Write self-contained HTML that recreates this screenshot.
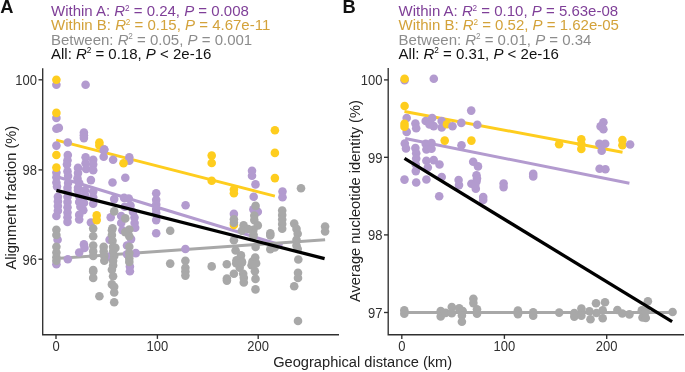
<!DOCTYPE html>
<html><head><meta charset="utf-8"><style>html,body{margin:0;padding:0;background:#fff;width:685px;height:372px;overflow:hidden}svg{display:block;will-change:transform}</style></head><body>
<svg width="685" height="372" viewBox="0 0 685 372" font-family="Liberation Sans, sans-serif" font-size="15">
<rect width="685" height="372" fill="#fff"/>
<text x="0.2" y="12.9" font-size="18.3" font-weight="bold" fill="#111">A</text>
<text x="342.6" y="12.9" font-size="18.3" font-weight="bold" fill="#111">B</text>
<text x="51" y="16.1" fill="#7f3f98">Within A: <tspan font-style="italic">R</tspan><tspan font-size="8.2" dx="-0.2" dy="-5.6">2</tspan><tspan dy="5.6"> = 0.24, </tspan><tspan font-style="italic">P</tspan> = 0.008</text>
<text x="51" y="30.4" fill="#d3a23a">Within B: <tspan font-style="italic">R</tspan><tspan font-size="8.2" dx="-0.2" dy="-5.6">2</tspan><tspan dy="5.6"> = 0.15, </tspan><tspan font-style="italic">P</tspan> = 4.67e-11</text>
<text x="51" y="44.7" fill="#8c8c8c">Between: <tspan font-style="italic">R</tspan><tspan font-size="8.2" dx="-0.2" dy="-5.6">2</tspan><tspan dy="5.6"> = 0.05, </tspan><tspan font-style="italic">P</tspan> = 0.001</text>
<text x="51" y="59.0" fill="#111">All: <tspan font-style="italic">R</tspan><tspan font-size="8.2" dx="-0.2" dy="-5.6">2</tspan><tspan dy="5.6"> = 0.18, </tspan><tspan font-style="italic">P</tspan> &lt; 2e-16</text>
<text x="398.6" y="16.1" fill="#7f3f98">Within A: <tspan font-style="italic">R</tspan><tspan font-size="8.2" dx="-0.2" dy="-5.6">2</tspan><tspan dy="5.6"> = 0.10, </tspan><tspan font-style="italic">P</tspan> = 5.63e-08</text>
<text x="398.6" y="30.4" fill="#d3a23a">Within B: <tspan font-style="italic">R</tspan><tspan font-size="8.2" dx="-0.2" dy="-5.6">2</tspan><tspan dy="5.6"> = 0.52, </tspan><tspan font-style="italic">P</tspan> = 1.62e-05</text>
<text x="398.6" y="44.7" fill="#8c8c8c">Between: <tspan font-style="italic">R</tspan><tspan font-size="8.2" dx="-0.2" dy="-5.6">2</tspan><tspan dy="5.6"> = 0.01, </tspan><tspan font-style="italic">P</tspan> = 0.34</text>
<text x="398.6" y="59.0" fill="#111">All: <tspan font-style="italic">R</tspan><tspan font-size="8.2" dx="-0.2" dy="-5.6">2</tspan><tspan dy="5.6"> = 0.31, </tspan><tspan font-style="italic">P</tspan> &lt; 2e-16</text>
<text transform="translate(15.8 197.7) rotate(-90)" text-anchor="middle" font-size="14.6" fill="#222">Alignment fraction (%)</text>
<text transform="translate(360.3 201.1) rotate(-90)" text-anchor="middle" font-size="14.6" fill="#222">Average nucleotide identity (%)</text>
<text x="362.7" y="366.6" text-anchor="middle" font-size="14.65" fill="#222">Geographical distance (km)</text>
<path d="M56.2 140.1L274.9 196.1" stroke="#fecd1e" stroke-width="3"/>
<path d="M56.2 176.5L282.5 245.5" stroke="#b39bcf" stroke-width="3"/>
<path d="M56.4 258.6L325.1 239.7" stroke="#a8a8a8" stroke-width="3"/>
<circle cx="56.4" cy="84.8" r="4.3" fill="#b39bcf"/>
<circle cx="85.6" cy="84.8" r="4.3" fill="#b39bcf"/>
<circle cx="56.4" cy="117.9" r="4.3" fill="#b39bcf"/>
<circle cx="56.4" cy="128.8" r="4.3" fill="#b39bcf"/>
<circle cx="58.8" cy="127.9" r="4.3" fill="#b39bcf"/>
<circle cx="83.9" cy="132.5" r="4.3" fill="#b39bcf"/>
<circle cx="83.9" cy="135.3" r="4.3" fill="#b39bcf"/>
<circle cx="83.9" cy="138.1" r="4.3" fill="#b39bcf"/>
<circle cx="56.4" cy="145.6" r="4.3" fill="#b39bcf"/>
<circle cx="67.8" cy="142.5" r="4.3" fill="#b39bcf"/>
<circle cx="104.3" cy="149.5" r="4.3" fill="#b39bcf"/>
<circle cx="56.4" cy="172.5" r="4.3" fill="#b39bcf"/>
<circle cx="56.4" cy="177.2" r="4.3" fill="#b39bcf"/>
<circle cx="56.4" cy="182.5" r="4.3" fill="#b39bcf"/>
<circle cx="57" cy="186.5" r="4.3" fill="#b39bcf"/>
<circle cx="67.8" cy="155" r="4.3" fill="#b39bcf"/>
<circle cx="67.5" cy="160.3" r="4.3" fill="#b39bcf"/>
<circle cx="67" cy="164.4" r="4.3" fill="#b39bcf"/>
<circle cx="67.5" cy="171.4" r="4.3" fill="#b39bcf"/>
<circle cx="68.1" cy="176" r="4.3" fill="#b39bcf"/>
<circle cx="68.1" cy="183" r="4.3" fill="#b39bcf"/>
<circle cx="67.5" cy="187.7" r="4.3" fill="#b39bcf"/>
<circle cx="78" cy="167.9" r="4.3" fill="#b39bcf"/>
<circle cx="78" cy="173.1" r="4.3" fill="#b39bcf"/>
<circle cx="77.5" cy="178.4" r="4.3" fill="#b39bcf"/>
<circle cx="79.2" cy="183" r="4.3" fill="#b39bcf"/>
<circle cx="78" cy="187.7" r="4.3" fill="#b39bcf"/>
<circle cx="85.6" cy="157.3" r="4.3" fill="#b39bcf"/>
<circle cx="85.6" cy="163.2" r="4.3" fill="#b39bcf"/>
<circle cx="86.2" cy="169" r="4.3" fill="#b39bcf"/>
<circle cx="93.2" cy="159.7" r="4.3" fill="#b39bcf"/>
<circle cx="93.2" cy="164.4" r="4.3" fill="#b39bcf"/>
<circle cx="93.2" cy="170.2" r="4.3" fill="#b39bcf"/>
<circle cx="90.9" cy="180.1" r="4.3" fill="#b39bcf"/>
<circle cx="103.7" cy="150.3" r="4.3" fill="#b39bcf"/>
<circle cx="103.7" cy="156.8" r="4.3" fill="#b39bcf"/>
<circle cx="113.1" cy="159.7" r="4.3" fill="#b39bcf"/>
<circle cx="112.5" cy="182.5" r="4.3" fill="#b39bcf"/>
<circle cx="125.3" cy="177.8" r="4.3" fill="#b39bcf"/>
<circle cx="57.9" cy="196.8" r="4.3" fill="#b39bcf"/>
<circle cx="57.9" cy="201.4" r="4.3" fill="#b39bcf"/>
<circle cx="57.9" cy="206.1" r="4.3" fill="#b39bcf"/>
<circle cx="57.9" cy="210.8" r="4.3" fill="#b39bcf"/>
<circle cx="56.4" cy="216" r="4.3" fill="#b39bcf"/>
<circle cx="67.5" cy="191.5" r="4.3" fill="#b39bcf"/>
<circle cx="67.5" cy="196.8" r="4.3" fill="#b39bcf"/>
<circle cx="67.5" cy="202" r="4.3" fill="#b39bcf"/>
<circle cx="67.5" cy="207.3" r="4.3" fill="#b39bcf"/>
<circle cx="67.5" cy="212.5" r="4.3" fill="#b39bcf"/>
<circle cx="67.5" cy="217.2" r="4.3" fill="#b39bcf"/>
<circle cx="67.5" cy="221.9" r="4.3" fill="#b39bcf"/>
<circle cx="78" cy="190.3" r="4.3" fill="#b39bcf"/>
<circle cx="79.2" cy="196.2" r="4.3" fill="#b39bcf"/>
<circle cx="79.2" cy="202" r="4.3" fill="#b39bcf"/>
<circle cx="80.4" cy="206.7" r="4.3" fill="#b39bcf"/>
<circle cx="83.3" cy="210.2" r="4.3" fill="#b39bcf"/>
<circle cx="79.2" cy="214.9" r="4.3" fill="#b39bcf"/>
<circle cx="79.2" cy="219.5" r="4.3" fill="#b39bcf"/>
<circle cx="85" cy="190.3" r="4.3" fill="#b39bcf"/>
<circle cx="85" cy="195" r="4.3" fill="#b39bcf"/>
<circle cx="84" cy="203" r="4.3" fill="#b39bcf"/>
<circle cx="93.2" cy="191.5" r="4.3" fill="#b39bcf"/>
<circle cx="93.2" cy="197.3" r="4.3" fill="#b39bcf"/>
<circle cx="93.2" cy="203.8" r="4.3" fill="#b39bcf"/>
<circle cx="90.9" cy="222.5" r="4.3" fill="#b39bcf"/>
<circle cx="114.2" cy="199.1" r="4.3" fill="#b39bcf"/>
<circle cx="110.7" cy="217.2" r="4.3" fill="#b39bcf"/>
<circle cx="121.2" cy="216" r="4.3" fill="#b39bcf"/>
<circle cx="121.2" cy="223" r="4.3" fill="#b39bcf"/>
<circle cx="57.6" cy="239.7" r="4.3" fill="#b39bcf"/>
<circle cx="56.4" cy="264.2" r="4.3" fill="#b39bcf"/>
<circle cx="67.8" cy="259.3" r="4.3" fill="#b39bcf"/>
<circle cx="79.2" cy="252.5" r="4.3" fill="#b39bcf"/>
<circle cx="83.9" cy="244.4" r="4.3" fill="#b39bcf"/>
<circle cx="84.5" cy="247.9" r="4.3" fill="#b39bcf"/>
<circle cx="109.6" cy="239.7" r="4.3" fill="#b39bcf"/>
<circle cx="109.6" cy="256.6" r="4.3" fill="#b39bcf"/>
<circle cx="122.4" cy="230.3" r="4.3" fill="#b39bcf"/>
<circle cx="129.3" cy="157.3" r="4.3" fill="#b39bcf"/>
<circle cx="129.3" cy="160.8" r="4.3" fill="#b39bcf"/>
<circle cx="124.1" cy="197.9" r="4.3" fill="#b39bcf"/>
<circle cx="128.8" cy="198.5" r="4.3" fill="#b39bcf"/>
<circle cx="130.5" cy="205.5" r="4.3" fill="#b39bcf"/>
<circle cx="124.7" cy="206.7" r="4.3" fill="#b39bcf"/>
<circle cx="134.6" cy="223" r="4.3" fill="#b39bcf"/>
<circle cx="135.2" cy="227.7" r="4.3" fill="#b39bcf"/>
<circle cx="156.2" cy="193.3" r="4.3" fill="#b39bcf"/>
<circle cx="156.2" cy="199.7" r="4.3" fill="#b39bcf"/>
<circle cx="156.2" cy="204.4" r="4.3" fill="#b39bcf"/>
<circle cx="156.2" cy="209" r="4.3" fill="#b39bcf"/>
<circle cx="156.2" cy="213.1" r="4.3" fill="#b39bcf"/>
<circle cx="156.2" cy="220.1" r="4.3" fill="#b39bcf"/>
<circle cx="185.6" cy="205.3" r="4.3" fill="#b39bcf"/>
<circle cx="133" cy="212" r="4.3" fill="#b39bcf"/>
<circle cx="134.5" cy="217.5" r="4.3" fill="#b39bcf"/>
<circle cx="131.1" cy="239.1" r="4.3" fill="#b39bcf"/>
<circle cx="127" cy="245.5" r="4.3" fill="#b39bcf"/>
<circle cx="127" cy="254.3" r="4.3" fill="#b39bcf"/>
<circle cx="135.8" cy="253.1" r="4.3" fill="#b39bcf"/>
<circle cx="156.2" cy="233.3" r="4.3" fill="#b39bcf"/>
<circle cx="185.4" cy="249" r="4.3" fill="#b39bcf"/>
<circle cx="129.9" cy="266.5" r="4.3" fill="#b39bcf"/>
<circle cx="129.9" cy="271.3" r="4.3" fill="#b39bcf"/>
<circle cx="252" cy="170.8" r="4.3" fill="#b39bcf"/>
<circle cx="252" cy="175.8" r="4.3" fill="#b39bcf"/>
<circle cx="255.5" cy="184.4" r="4.3" fill="#b39bcf"/>
<circle cx="253.7" cy="196.8" r="4.3" fill="#b39bcf"/>
<circle cx="233.9" cy="213.9" r="4.3" fill="#b39bcf"/>
<circle cx="253.4" cy="209.4" r="4.3" fill="#b39bcf"/>
<circle cx="257.8" cy="211.7" r="4.3" fill="#b39bcf"/>
<circle cx="282.5" cy="191.5" r="4.3" fill="#b39bcf"/>
<circle cx="282.5" cy="197.3" r="4.3" fill="#b39bcf"/>
<circle cx="56.4" cy="79.7" r="4.3" fill="#fecd1e"/>
<circle cx="56.4" cy="112.9" r="4.3" fill="#fecd1e"/>
<circle cx="99.4" cy="142.5" r="4.3" fill="#fecd1e"/>
<circle cx="99.4" cy="145.4" r="4.3" fill="#fecd1e"/>
<circle cx="56.4" cy="155.0" r="4.3" fill="#fecd1e"/>
<circle cx="56.4" cy="167.6" r="4.3" fill="#fecd1e"/>
<circle cx="123.5" cy="163.2" r="4.3" fill="#fecd1e"/>
<circle cx="96.7" cy="215.4" r="4.3" fill="#fecd1e"/>
<circle cx="96.7" cy="220.1" r="4.3" fill="#fecd1e"/>
<circle cx="211.7" cy="155.6" r="4.3" fill="#fecd1e"/>
<circle cx="211.7" cy="163" r="4.3" fill="#fecd1e"/>
<circle cx="211.7" cy="180.7" r="4.3" fill="#fecd1e"/>
<circle cx="233.9" cy="189.5" r="4.3" fill="#fecd1e"/>
<circle cx="233.9" cy="193.3" r="4.3" fill="#fecd1e"/>
<circle cx="274.9" cy="130.2" r="4.3" fill="#fecd1e"/>
<circle cx="274.9" cy="152.9" r="4.3" fill="#fecd1e"/>
<circle cx="274.9" cy="178.1" r="4.3" fill="#fecd1e"/>
<circle cx="233.9" cy="225" r="4.3" fill="#fecd1e"/>
<circle cx="114.2" cy="211.4" r="4.3" fill="#a8a8a8"/>
<circle cx="56.4" cy="229.8" r="4.3" fill="#a8a8a8"/>
<circle cx="93.2" cy="228.6" r="4.3" fill="#a8a8a8"/>
<circle cx="112.5" cy="228.3" r="4.3" fill="#a8a8a8"/>
<circle cx="56.4" cy="235" r="4.3" fill="#a8a8a8"/>
<circle cx="56.4" cy="246.7" r="4.3" fill="#a8a8a8"/>
<circle cx="56.4" cy="252.5" r="4.3" fill="#a8a8a8"/>
<circle cx="56.4" cy="257.2" r="4.3" fill="#a8a8a8"/>
<circle cx="56.4" cy="260.7" r="4.3" fill="#a8a8a8"/>
<circle cx="93.2" cy="236.2" r="4.3" fill="#a8a8a8"/>
<circle cx="93.2" cy="245.5" r="4.3" fill="#a8a8a8"/>
<circle cx="93.2" cy="251.4" r="4.3" fill="#a8a8a8"/>
<circle cx="93.2" cy="256" r="4.3" fill="#a8a8a8"/>
<circle cx="93.2" cy="270" r="4.3" fill="#a8a8a8"/>
<circle cx="103.7" cy="246.7" r="4.3" fill="#a8a8a8"/>
<circle cx="103.7" cy="251.4" r="4.3" fill="#a8a8a8"/>
<circle cx="104.3" cy="256" r="4.3" fill="#a8a8a8"/>
<circle cx="104.3" cy="260.7" r="4.3" fill="#a8a8a8"/>
<circle cx="111.9" cy="230.3" r="4.3" fill="#a8a8a8"/>
<circle cx="111.9" cy="235" r="4.3" fill="#a8a8a8"/>
<circle cx="112.5" cy="240.8" r="4.3" fill="#a8a8a8"/>
<circle cx="113.1" cy="246.7" r="4.3" fill="#a8a8a8"/>
<circle cx="113.1" cy="251.4" r="4.3" fill="#a8a8a8"/>
<circle cx="114.2" cy="256" r="4.3" fill="#a8a8a8"/>
<circle cx="113.1" cy="260.7" r="4.3" fill="#a8a8a8"/>
<circle cx="113.1" cy="265.4" r="4.3" fill="#a8a8a8"/>
<circle cx="111.9" cy="269.8" r="4.3" fill="#a8a8a8"/>
<circle cx="115.4" cy="247.9" r="4.3" fill="#a8a8a8"/>
<circle cx="93.2" cy="271.5" r="4.3" fill="#a8a8a8"/>
<circle cx="93.2" cy="277.9" r="4.3" fill="#a8a8a8"/>
<circle cx="99.4" cy="296.2" r="4.3" fill="#a8a8a8"/>
<circle cx="113.1" cy="276.2" r="4.3" fill="#a8a8a8"/>
<circle cx="111.9" cy="284.4" r="4.3" fill="#a8a8a8"/>
<circle cx="114.2" cy="286.7" r="4.3" fill="#a8a8a8"/>
<circle cx="114.2" cy="292.5" r="4.3" fill="#a8a8a8"/>
<circle cx="114.2" cy="302.3" r="4.3" fill="#a8a8a8"/>
<circle cx="125.3" cy="218.4" r="4.3" fill="#a8a8a8"/>
<circle cx="129.3" cy="229.5" r="4.3" fill="#a8a8a8"/>
<circle cx="170.2" cy="230.8" r="4.3" fill="#a8a8a8"/>
<circle cx="125.3" cy="232.1" r="4.3" fill="#a8a8a8"/>
<circle cx="129.3" cy="236.2" r="4.3" fill="#a8a8a8"/>
<circle cx="129.3" cy="246.7" r="4.3" fill="#a8a8a8"/>
<circle cx="129.3" cy="253.1" r="4.3" fill="#a8a8a8"/>
<circle cx="129.3" cy="258.4" r="4.3" fill="#a8a8a8"/>
<circle cx="129.3" cy="261.9" r="4.3" fill="#a8a8a8"/>
<circle cx="170.2" cy="263.6" r="4.3" fill="#a8a8a8"/>
<circle cx="185.4" cy="260.7" r="4.3" fill="#a8a8a8"/>
<circle cx="185.4" cy="267.7" r="4.3" fill="#a8a8a8"/>
<circle cx="185.4" cy="271.5" r="4.3" fill="#a8a8a8"/>
<circle cx="185.4" cy="275.6" r="4.3" fill="#a8a8a8"/>
<circle cx="255.6" cy="205.9" r="4.3" fill="#a8a8a8"/>
<circle cx="254.3" cy="215.6" r="4.3" fill="#a8a8a8"/>
<circle cx="254.3" cy="220.1" r="4.3" fill="#a8a8a8"/>
<circle cx="257.8" cy="225.4" r="4.3" fill="#a8a8a8"/>
<circle cx="253.4" cy="229.8" r="4.3" fill="#a8a8a8"/>
<circle cx="253.4" cy="234.3" r="4.3" fill="#a8a8a8"/>
<circle cx="233.9" cy="219.2" r="4.3" fill="#a8a8a8"/>
<circle cx="233.9" cy="222.7" r="4.3" fill="#a8a8a8"/>
<circle cx="243.6" cy="225.4" r="4.3" fill="#a8a8a8"/>
<circle cx="241.9" cy="230.7" r="4.3" fill="#a8a8a8"/>
<circle cx="248.1" cy="229" r="4.3" fill="#a8a8a8"/>
<circle cx="270.3" cy="233.4" r="4.3" fill="#a8a8a8"/>
<circle cx="282.2" cy="210.5" r="4.3" fill="#a8a8a8"/>
<circle cx="282.2" cy="215" r="4.3" fill="#a8a8a8"/>
<circle cx="282.2" cy="219.5" r="4.3" fill="#a8a8a8"/>
<circle cx="282.2" cy="224" r="4.3" fill="#a8a8a8"/>
<circle cx="282.2" cy="228.7" r="4.3" fill="#a8a8a8"/>
<circle cx="233.9" cy="240.3" r="4.3" fill="#a8a8a8"/>
<circle cx="253.4" cy="235.9" r="4.3" fill="#a8a8a8"/>
<circle cx="270.3" cy="235.4" r="4.3" fill="#a8a8a8"/>
<circle cx="255.6" cy="247" r="4.3" fill="#a8a8a8"/>
<circle cx="270.3" cy="249.2" r="4.3" fill="#a8a8a8"/>
<circle cx="274.7" cy="247.4" r="4.3" fill="#a8a8a8"/>
<circle cx="235.6" cy="250.5" r="4.3" fill="#a8a8a8"/>
<circle cx="241" cy="255.4" r="4.3" fill="#a8a8a8"/>
<circle cx="236.5" cy="260.3" r="4.3" fill="#a8a8a8"/>
<circle cx="241.9" cy="261.6" r="4.3" fill="#a8a8a8"/>
<circle cx="226.8" cy="264.3" r="4.3" fill="#a8a8a8"/>
<circle cx="255.2" cy="257.6" r="4.3" fill="#a8a8a8"/>
<circle cx="252.5" cy="261.6" r="4.3" fill="#a8a8a8"/>
<circle cx="251.6" cy="265.2" r="4.3" fill="#a8a8a8"/>
<circle cx="256.1" cy="263.4" r="4.3" fill="#a8a8a8"/>
<circle cx="211.7" cy="266.4" r="4.3" fill="#a8a8a8"/>
<circle cx="233.9" cy="273.7" r="4.3" fill="#a8a8a8"/>
<circle cx="226.9" cy="278.6" r="4.3" fill="#a8a8a8"/>
<circle cx="226.9" cy="280.6" r="4.3" fill="#a8a8a8"/>
<circle cx="239.7" cy="267.8" r="4.3" fill="#a8a8a8"/>
<circle cx="243.2" cy="273.7" r="4.3" fill="#a8a8a8"/>
<circle cx="243.8" cy="277.8" r="4.3" fill="#a8a8a8"/>
<circle cx="243.8" cy="282.4" r="4.3" fill="#a8a8a8"/>
<circle cx="236.2" cy="263.2" r="4.3" fill="#a8a8a8"/>
<circle cx="242" cy="262.6" r="4.3" fill="#a8a8a8"/>
<circle cx="253.7" cy="264.3" r="4.3" fill="#a8a8a8"/>
<circle cx="254.9" cy="271.3" r="4.3" fill="#a8a8a8"/>
<circle cx="255.5" cy="278.9" r="4.3" fill="#a8a8a8"/>
<circle cx="255.5" cy="289.4" r="4.3" fill="#a8a8a8"/>
<circle cx="301" cy="188.3" r="4.3" fill="#a8a8a8"/>
<circle cx="294.2" cy="223.6" r="4.3" fill="#a8a8a8"/>
<circle cx="296.5" cy="228.9" r="4.3" fill="#a8a8a8"/>
<circle cx="325.1" cy="226.5" r="4.3" fill="#a8a8a8"/>
<circle cx="325.1" cy="231.5" r="4.3" fill="#a8a8a8"/>
<circle cx="297.7" cy="233.8" r="4.3" fill="#a8a8a8"/>
<circle cx="296.5" cy="239.7" r="4.3" fill="#a8a8a8"/>
<circle cx="296.5" cy="245.5" r="4.3" fill="#a8a8a8"/>
<circle cx="297.7" cy="249" r="4.3" fill="#a8a8a8"/>
<circle cx="298.3" cy="259.5" r="4.3" fill="#a8a8a8"/>
<circle cx="298" cy="272.7" r="4.3" fill="#a8a8a8"/>
<circle cx="298" cy="278" r="4.3" fill="#a8a8a8"/>
<circle cx="294.2" cy="286.3" r="4.3" fill="#a8a8a8"/>
<circle cx="298" cy="321" r="4.3" fill="#a8a8a8"/>
<circle cx="104.1" cy="149.6" r="4.3" fill="#b39bcf"/>
<path d="M56.4 190.3L324.6 258.6" stroke="#000" stroke-width="3.3"/>
<path d="M42.7 68.2V334.7H339" fill="none" stroke="#303030" stroke-width="1.35"/>
<path d="M38.5 79.8H42.7" stroke="#303030" stroke-width="1.35"/>
<text transform="translate(36.900000000000006 85.3) scale(0.89 1)" text-anchor="end" font-size="14.6" fill="#303030">100</text>
<path d="M38.5 169.9H42.7" stroke="#303030" stroke-width="1.35"/>
<text transform="translate(36.900000000000006 175.4) scale(0.89 1)" text-anchor="end" font-size="14.6" fill="#303030">98</text>
<path d="M38.5 259.2H42.7" stroke="#303030" stroke-width="1.35"/>
<text transform="translate(36.900000000000006 264.7) scale(0.89 1)" text-anchor="end" font-size="14.6" fill="#303030">96</text>
<path d="M56 334.7V338.9" stroke="#303030" stroke-width="1.35"/>
<text transform="translate(56 351.3) scale(0.89 1)" text-anchor="middle" font-size="14.6" fill="#303030">0</text>
<path d="M157.4 334.7V338.9" stroke="#303030" stroke-width="1.35"/>
<text transform="translate(157.4 351.3) scale(0.89 1)" text-anchor="middle" font-size="14.6" fill="#303030">100</text>
<path d="M258.2 334.7V338.9" stroke="#303030" stroke-width="1.35"/>
<text transform="translate(258.2 351.3) scale(0.89 1)" text-anchor="middle" font-size="14.6" fill="#303030">200</text>
<path d="M404.5 111.5L622.5 152.2" stroke="#fecd1e" stroke-width="3"/>
<path d="M405.2 138.5L629.4 183.3" stroke="#b39bcf" stroke-width="3"/>
<path d="M404.3 312.5L672.6 312.4" stroke="#a8a8a8" stroke-width="3"/>
<circle cx="404.6" cy="80.3" r="4.3" fill="#b39bcf"/>
<circle cx="433.8" cy="78.7" r="4.3" fill="#b39bcf"/>
<circle cx="406.7" cy="118" r="4.3" fill="#b39bcf"/>
<circle cx="406.7" cy="131.9" r="4.3" fill="#b39bcf"/>
<circle cx="415.4" cy="123.5" r="4.3" fill="#b39bcf"/>
<circle cx="416.2" cy="128.2" r="4.3" fill="#b39bcf"/>
<circle cx="425.7" cy="121" r="4.3" fill="#b39bcf"/>
<circle cx="432.2" cy="118" r="4.3" fill="#b39bcf"/>
<circle cx="433.7" cy="126.1" r="4.3" fill="#b39bcf"/>
<circle cx="429.5" cy="124.5" r="4.3" fill="#b39bcf"/>
<circle cx="441.7" cy="121" r="4.3" fill="#b39bcf"/>
<circle cx="441.7" cy="127.5" r="4.3" fill="#b39bcf"/>
<circle cx="404.8" cy="143.5" r="4.3" fill="#b39bcf"/>
<circle cx="406" cy="148.5" r="4.3" fill="#b39bcf"/>
<circle cx="415.4" cy="148.1" r="4.3" fill="#b39bcf"/>
<circle cx="416.2" cy="153.2" r="4.3" fill="#b39bcf"/>
<circle cx="425.7" cy="143.7" r="4.3" fill="#b39bcf"/>
<circle cx="431.5" cy="143" r="4.3" fill="#b39bcf"/>
<circle cx="426.4" cy="149.5" r="4.3" fill="#b39bcf"/>
<circle cx="431.5" cy="148.8" r="4.3" fill="#b39bcf"/>
<circle cx="416.2" cy="158.6" r="4.3" fill="#b39bcf"/>
<circle cx="415.8" cy="164.5" r="4.3" fill="#b39bcf"/>
<circle cx="415.8" cy="171.1" r="4.3" fill="#b39bcf"/>
<circle cx="426.4" cy="160.8" r="4.3" fill="#b39bcf"/>
<circle cx="433.7" cy="160.1" r="4.3" fill="#b39bcf"/>
<circle cx="439.5" cy="164.5" r="4.3" fill="#b39bcf"/>
<circle cx="427.8" cy="167.5" r="4.3" fill="#b39bcf"/>
<circle cx="404.5" cy="179.6" r="4.3" fill="#b39bcf"/>
<circle cx="416.2" cy="182.5" r="4.3" fill="#b39bcf"/>
<circle cx="426.4" cy="179.5" r="4.3" fill="#b39bcf"/>
<circle cx="441.7" cy="177" r="4.3" fill="#b39bcf"/>
<circle cx="439.2" cy="196.2" r="4.3" fill="#b39bcf"/>
<circle cx="471.2" cy="110.6" r="4.3" fill="#b39bcf"/>
<circle cx="461.3" cy="122.9" r="4.3" fill="#b39bcf"/>
<circle cx="477.3" cy="124.7" r="4.3" fill="#b39bcf"/>
<circle cx="461.5" cy="145.2" r="4.3" fill="#b39bcf"/>
<circle cx="473.2" cy="161.7" r="4.3" fill="#b39bcf"/>
<circle cx="478" cy="166.4" r="4.3" fill="#b39bcf"/>
<circle cx="476.5" cy="175.2" r="4.3" fill="#b39bcf"/>
<circle cx="458.6" cy="180" r="4.3" fill="#b39bcf"/>
<circle cx="459" cy="185.1" r="4.3" fill="#b39bcf"/>
<circle cx="471.4" cy="183.7" r="4.3" fill="#b39bcf"/>
<circle cx="476.5" cy="181.5" r="4.3" fill="#b39bcf"/>
<circle cx="475.8" cy="188.8" r="4.3" fill="#b39bcf"/>
<circle cx="475.2" cy="185.5" r="4.3" fill="#b39bcf"/>
<circle cx="477" cy="178.5" r="4.3" fill="#b39bcf"/>
<circle cx="483.2" cy="197" r="4.3" fill="#b39bcf"/>
<circle cx="483.2" cy="200" r="4.3" fill="#b39bcf"/>
<circle cx="503.6" cy="183.6" r="4.3" fill="#b39bcf"/>
<circle cx="503.6" cy="187.1" r="4.3" fill="#b39bcf"/>
<circle cx="533.2" cy="173.9" r="4.3" fill="#b39bcf"/>
<circle cx="533.2" cy="176.4" r="4.3" fill="#b39bcf"/>
<circle cx="603.4" cy="122.3" r="4.3" fill="#b39bcf"/>
<circle cx="600.6" cy="126.4" r="4.3" fill="#b39bcf"/>
<circle cx="603.4" cy="129.2" r="4.3" fill="#b39bcf"/>
<circle cx="599.6" cy="168.8" r="4.3" fill="#b39bcf"/>
<circle cx="605.4" cy="169.3" r="4.3" fill="#b39bcf"/>
<circle cx="404.6" cy="78.7" r="4.3" fill="#fecd1e"/>
<circle cx="404.6" cy="106" r="4.3" fill="#fecd1e"/>
<circle cx="404.5" cy="123.9" r="4.3" fill="#fecd1e"/>
<circle cx="404.5" cy="126.8" r="4.3" fill="#fecd1e"/>
<circle cx="444.7" cy="140.6" r="4.3" fill="#fecd1e"/>
<circle cx="447" cy="124.3" r="4.3" fill="#fecd1e"/>
<circle cx="471.4" cy="140.6" r="4.3" fill="#fecd1e"/>
<circle cx="559.1" cy="144.3" r="4.3" fill="#fecd1e"/>
<circle cx="581.3" cy="139.2" r="4.3" fill="#fecd1e"/>
<circle cx="581.3" cy="144" r="4.3" fill="#fecd1e"/>
<circle cx="581.3" cy="149" r="4.3" fill="#fecd1e"/>
<circle cx="622.4" cy="140" r="4.3" fill="#fecd1e"/>
<circle cx="622.4" cy="145.2" r="4.3" fill="#fecd1e"/>
<circle cx="404.3" cy="310.2" r="4.3" fill="#a8a8a8"/>
<circle cx="404.3" cy="313.7" r="4.3" fill="#a8a8a8"/>
<circle cx="440.7" cy="311.1" r="4.3" fill="#a8a8a8"/>
<circle cx="440.7" cy="316.4" r="4.3" fill="#a8a8a8"/>
<circle cx="445.6" cy="312.9" r="4.3" fill="#a8a8a8"/>
<circle cx="451.8" cy="307" r="4.3" fill="#a8a8a8"/>
<circle cx="451.8" cy="313.3" r="4.3" fill="#a8a8a8"/>
<circle cx="459.2" cy="308.4" r="4.3" fill="#a8a8a8"/>
<circle cx="462.7" cy="311.1" r="4.3" fill="#a8a8a8"/>
<circle cx="461.9" cy="315.5" r="4.3" fill="#a8a8a8"/>
<circle cx="461.9" cy="321.7" r="4.3" fill="#a8a8a8"/>
<circle cx="473.4" cy="298.7" r="4.3" fill="#a8a8a8"/>
<circle cx="473.4" cy="303.1" r="4.3" fill="#a8a8a8"/>
<circle cx="477" cy="309.3" r="4.3" fill="#a8a8a8"/>
<circle cx="477" cy="313.7" r="4.3" fill="#a8a8a8"/>
<circle cx="517.9" cy="310.5" r="4.3" fill="#a8a8a8"/>
<circle cx="517.9" cy="314.3" r="4.3" fill="#a8a8a8"/>
<circle cx="533.2" cy="312.3" r="4.3" fill="#a8a8a8"/>
<circle cx="533.2" cy="315.7" r="4.3" fill="#a8a8a8"/>
<circle cx="559.2" cy="312.6" r="4.3" fill="#a8a8a8"/>
<circle cx="574.3" cy="313.1" r="4.3" fill="#a8a8a8"/>
<circle cx="574.3" cy="316.6" r="4.3" fill="#a8a8a8"/>
<circle cx="581.4" cy="308.6" r="4.3" fill="#a8a8a8"/>
<circle cx="581.4" cy="315.7" r="4.3" fill="#a8a8a8"/>
<circle cx="589.4" cy="311.3" r="4.3" fill="#a8a8a8"/>
<circle cx="590.5" cy="319.3" r="4.3" fill="#a8a8a8"/>
<circle cx="596" cy="303.3" r="4.3" fill="#a8a8a8"/>
<circle cx="605" cy="302.2" r="4.3" fill="#a8a8a8"/>
<circle cx="602.7" cy="310.2" r="4.3" fill="#a8a8a8"/>
<circle cx="602.7" cy="318.3" r="4.3" fill="#a8a8a8"/>
<circle cx="596.5" cy="313" r="4.3" fill="#a8a8a8"/>
<circle cx="617.4" cy="310" r="4.3" fill="#a8a8a8"/>
<circle cx="622.3" cy="313.5" r="4.3" fill="#a8a8a8"/>
<circle cx="629.4" cy="314.4" r="4.3" fill="#a8a8a8"/>
<circle cx="641.8" cy="310.4" r="4.3" fill="#a8a8a8"/>
<circle cx="645.8" cy="311.5" r="4.3" fill="#a8a8a8"/>
<circle cx="642.5" cy="317.5" r="4.3" fill="#a8a8a8"/>
<circle cx="645.8" cy="318" r="4.3" fill="#a8a8a8"/>
<circle cx="647.9" cy="301.3" r="4.3" fill="#a8a8a8"/>
<circle cx="672.6" cy="312" r="4.3" fill="#a8a8a8"/>
<circle cx="452.5" cy="126.2" r="4.3" fill="#b39bcf"/>
<circle cx="599.4" cy="143.8" r="4.3" fill="#b39bcf"/>
<circle cx="605.2" cy="143.8" r="4.3" fill="#b39bcf"/>
<circle cx="601.7" cy="150.8" r="4.3" fill="#b39bcf"/>
<circle cx="630.1" cy="144.5" r="4.3" fill="#b39bcf"/>
<path d="M404.5 158.3L672.1 321.7" stroke="#000" stroke-width="3.3"/>
<path d="M388.2 68.1V334.7H684" fill="none" stroke="#303030" stroke-width="1.35"/>
<path d="M384.0 79.9H388.2" stroke="#303030" stroke-width="1.35"/>
<text transform="translate(382.4 85.4) scale(0.89 1)" text-anchor="end" font-size="14.6" fill="#303030">100</text>
<path d="M384.0 157.3H388.2" stroke="#303030" stroke-width="1.35"/>
<text transform="translate(382.4 162.8) scale(0.89 1)" text-anchor="end" font-size="14.6" fill="#303030">99</text>
<path d="M384.0 234.9H388.2" stroke="#303030" stroke-width="1.35"/>
<text transform="translate(382.4 240.4) scale(0.89 1)" text-anchor="end" font-size="14.6" fill="#303030">98</text>
<path d="M384.0 312.5H388.2" stroke="#303030" stroke-width="1.35"/>
<text transform="translate(382.4 318.0) scale(0.89 1)" text-anchor="end" font-size="14.6" fill="#303030">97</text>
<path d="M401.8 334.7V338.9" stroke="#303030" stroke-width="1.35"/>
<text transform="translate(401.8 351.3) scale(0.89 1)" text-anchor="middle" font-size="14.6" fill="#303030">0</text>
<path d="M504.4 334.7V338.9" stroke="#303030" stroke-width="1.35"/>
<text transform="translate(504.4 351.3) scale(0.89 1)" text-anchor="middle" font-size="14.6" fill="#303030">100</text>
<path d="M606.7 334.7V338.9" stroke="#303030" stroke-width="1.35"/>
<text transform="translate(606.7 351.3) scale(0.89 1)" text-anchor="middle" font-size="14.6" fill="#303030">200</text>
</svg>
</body></html>
